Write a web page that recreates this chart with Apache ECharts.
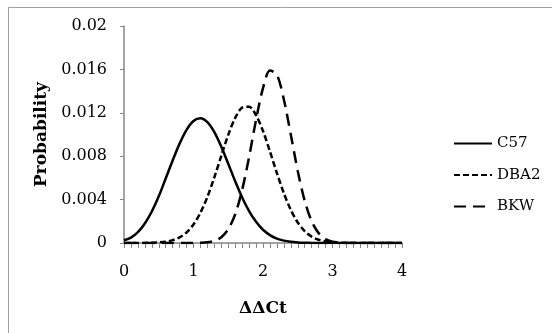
<!DOCTYPE html>
<html>
<head>
<meta charset="utf-8">
<script src="https://cdn.jsdelivr.net/npm/echarts@6/dist/echarts.min.js"></script>
<style>html,body{margin:0;padding:0;background:#fff;}#c{width:552px;height:333px;}</style>
</head>
<body>
<div id="c"></div>
<script>
var xValues = [0,0.1,0.2,0.3,0.4,0.5,0.6,0.7,0.8,0.9,1,1.1,1.2,1.3,1.4,1.5,1.6,1.7,1.8,1.9,2,2.1,2.2,2.3,2.4,2.5,2.6,2.7,2.8,2.9,3,3.1,3.2,3.3,3.4,3.5,3.6,3.7,3.8,3.9,4];
var c57 = [0.00025,0.0005,0.001,0.0018,0.0029,0.0043,0.00595,0.0076,0.00916,0.01043,0.01125,0.0115,0.01113,0.01021,0.00887,0.0073,0.00569,0.0042,0.00294,0.00195,0.00122,0.00073,0.00041,0.00022,0.00011,0.00005,0.00002,0.00001,0,0,0,0,0,0,0,0,0,0,0,0,0];
var dba2 = [0,0,0,0.00001,0.00002,0.00005,0.00012,0.00026,0.00052,0.00097,0.00171,0.00279,0.00425,0.00606,0.00804,0.00997,0.01153,0.01248,0.01256,0.01177,0.01032,0.00844,0.00644,0.00459,0.00305,0.00189,0.00109,0.00059,0.0003,0.00014,0.00006,0.00003,0.00001,0,0,0,0,0,0,0,0];
var bkw = [0,0,0,0,0,0,0,0,0,0,0.00001,0.00002,0.00006,0.0002,0.00053,0.00127,0.00265,0.00489,0.00794,0.01135,0.01427,0.0159,0.01552,0.01322,0.00999,0.00664,0.00389,0.002,0.00091,0.00036,0.00013,0.00004,0.00001,0,0,0,0,0,0,0,0];
var seriesNames = ['C57','DBA2','BKW'];
var yTickLabels = ['0','0.004','0.008','0.012','0.016','0.02'];
var xTickLabels = ['0','1','2','3','4'];

function pairs(ys){ return xValues.map(function(x,i){ return [x, ys[i]]; }); }

var FONT = 'DejaVu Serif';
var chart = echarts.init(document.getElementById('c'), null, {renderer:'canvas'});
var axisColor = '#868686';
chart.setOption({
  animation: false,
  backgroundColor: '#fff',
  textStyle: {fontFamily: FONT},
  graphic: [{
    type: 'rect', z: -10, silent: true,
    shape: {x: 8.5, y: 7.5, width: 700, height: 500},
    style: {fill: 'none', stroke: '#a0a0a0', lineWidth: 1}
  }],
  grid: {left: 124, right: 150, top: 26, bottom: 90, containLabel: false, outerBoundsMode: 'none'},
  legend: {
    orient: 'vertical', left: 448, top: 131,
    itemWidth: 38, itemHeight: 14, itemGap: 16.5,
    itemStyle: {opacity: 0},
    textStyle: {fontFamily: FONT, fontSize: 15, color: '#000'},
    data: seriesNames
  },
  xAxis: {
    type: 'value', min: 0, max: 4, interval: 1,
    name: 'ΔΔCt', nameLocation: 'middle', nameGap: 57,
    nameTextStyle: {fontFamily: FONT, fontSize: 17, fontWeight: 'bold', color: '#000'},
    axisLine: {show: true, onZero: false, lineStyle: {color: axisColor, width: 1.5}},
    axisTick: {show: true, inside: false, length: 5, lineStyle: {color: axisColor}},
    minorTick: {show: true, splitNumber: 10, length: 5, lineStyle: {color: axisColor}},
    splitLine: {show: false},
    axisLabel: {fontFamily: FONT, fontSize: 16, color: '#000', margin: 21,
      formatter: function(v){ return xTickLabels[Math.round(v)]; }}
  },
  yAxis: {
    type: 'value', min: 0, max: 0.02, interval: 0.004,
    name: 'Probability', nameLocation: 'middle', nameGap: 74,
    nameTextStyle: {fontFamily: FONT, fontSize: 17, fontWeight: 'bold', color: '#000'},
    axisLine: {show: true, lineStyle: {color: axisColor, width: 1.5}},
    axisTick: {show: true, inside: false, length: 4, lineStyle: {color: axisColor}},
    splitLine: {show: false},
    axisLabel: {fontFamily: FONT, fontSize: 16, color: '#000', margin: 17,
      formatter: function(v){ return yTickLabels[Math.round(v/0.004)]; }}
  },
  series: [
    {name: seriesNames[0], type: 'line', data: pairs(c57), smooth: 0.3, symbol: 'none',
      lineStyle: {color: '#000', width: 2.5, type: 'solid'}, itemStyle: {color: '#000'}},
    {name: seriesNames[1], type: 'line', data: pairs(dba2), smooth: 0.3, symbol: 'none',
      lineStyle: {color: '#000', width: 2.5, type: [6, 3]}, itemStyle: {color: '#000'}},
    {name: seriesNames[2], type: 'line', data: pairs(bkw), smooth: 0.3, symbol: 'none',
      lineStyle: {color: '#000', width: 2.5, type: [12, 7]}, itemStyle: {color: '#000'}}
  ]
});
</script>
</body>
</html>
